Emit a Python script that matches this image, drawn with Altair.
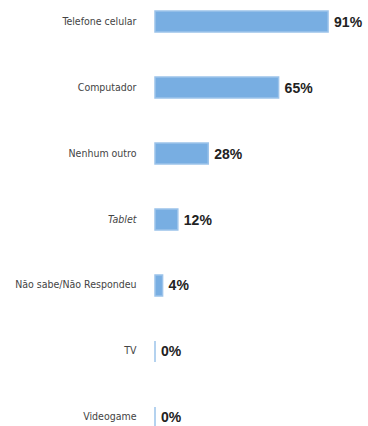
import altair as alt
import pandas as pd

categories = ["Telefone celular", "Computador", "Nenhum outro", "Tablet",
              "Não sabe/Não Respondeu", "TV", "Videogame"]
values = [91, 65, 28, 12, 4, 0, 0]
labels = ["91%", "65%", "28%", "12%", "4%", "0%", "0%"]

df = pd.DataFrame({"cat": categories, "val": values, "lab": labels})

y = alt.Y("cat:N", sort=categories, title=None,
          scale=alt.Scale(paddingInner=0.68, paddingOuter=0, range=[11, 428]),
          axis=alt.Axis(domain=False, ticks=False, grid=False, labelPadding=19,
                        labelFont="'DejaVu Sans Condensed', 'Liberation Sans'", labelFontSize=10.5,
                        labelColor="#444444", labelLimit=200,
                        labelFontStyle=alt.ExprRef("datum.value == 'Tablet' ? 'italic' : 'normal'")))
x = alt.X("val:Q", scale=alt.Scale(domain=[0, 112]), axis=None, title=None)

bars = alt.Chart(df).mark_bar(color="#78aee2", stroke="#9cc3ea", strokeWidth=1.5).encode(x=x, y=y)
text = alt.Chart(df).mark_text(align="left", baseline="middle", dx=6, dy=1,
                               font="Liberation Sans", fontSize=14, fontWeight="bold",
                               color="#222222").encode(
    x=x, y=alt.Y("cat:N", sort=categories), text="lab:N")

chart = (bars + text).properties(
    width=213, height=426,
    background="white",
    autosize=alt.AutoSizeParams(type="none"),
    padding={"left": 155, "top": 0, "right": 0, "bottom": 0},
).configure_view(strokeWidth=0).configure_axis(domain=False, grid=False, ticks=False)

chart.save("out.html", embed_options={"renderer": "svg", "actions": False})
